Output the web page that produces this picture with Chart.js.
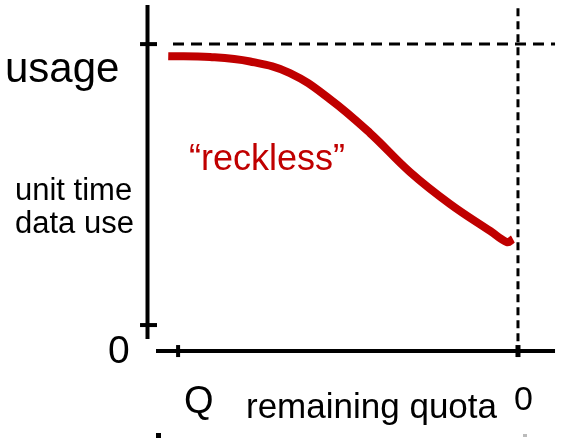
<!DOCTYPE html>
<html>
<head>
<meta charset="utf-8">
<title>reckless usage</title>
<script src="https://cdn.jsdelivr.net/npm/chart.js@4/dist/chart.umd.min.js"></script>
<style>
  html, body { margin: 0; padding: 0; background: #fff; }
  #wrap { width: 571px; height: 438px; }
</style>
</head>
<body>
<div id="wrap"><canvas id="grafico" width="571" height="438"></canvas></div>
<script>
// curva "reckless": cuota restante (Q = 100 → 0) vs uso por unidad de tiempo
const quotaLeft  = [102.9, 90.6, 78.8, 67.1, 55.3, 43.5, 31.8, 20.0, 8.2, 3.2, 1.5];
const usageRate  = [ 95.7, 95.4, 93.8, 89.7, 80.4, 68.3, 54.5, 43.1, 33.5, 29.5, 30.6];

const xTickVals   = [100, 0];
const xTickLabels = ['Q', '0'];
const yTickVals   = [0, 100];
const yTickLabels = ['0', 'usage'];

const ROJO  = '#c00000';
const NEGRO = '#000';
const FUENTE = '"Liberation Sans", Arial, Helvetica, sans-serif';

// ejes dibujados a mano sobre las escalas del chart
const ejesBoceto = {
  id: 'ejesBoceto',
  beforeDatasetsDraw(chart) {
    const { ctx, scales: { x, y } } = chart;
    ctx.save();
    ctx.strokeStyle = NEGRO;
    ctx.lineCap = 'butt';

    // eje Y
    ctx.lineWidth = 4;
    ctx.beginPath();
    ctx.moveTo(x.getPixelForValue(109), y.getPixelForValue(113.9));
    ctx.lineTo(x.getPixelForValue(109), y.getPixelForValue(-5));
    ctx.stroke();

    // eje X
    const yEje = y.getPixelForValue(-9.25);
    ctx.beginPath();
    ctx.moveTo(x.getPixelForValue(106.5), yEje);
    ctx.lineTo(x.getPixelForValue(-10.9), yEje);
    ctx.stroke();

    // marcas del eje Y
    yTickVals.forEach(v => {
      const py = y.getPixelForValue(v);
      ctx.beginPath();
      ctx.moveTo(x.getPixelForValue(111.2), py);
      ctx.lineTo(x.getPixelForValue(106.2), py);
      ctx.stroke();
    });

    // marcas del eje X
    xTickVals.forEach((v, i) => {
      const px = x.getPixelForValue(v);
      ctx.lineWidth = i === 0 ? 4 : 5;
      ctx.beginPath();
      ctx.moveTo(px, yEje - 6);
      ctx.lineTo(px, yEje + 6);
      ctx.stroke();
    });

    // líneas discontinuas: tope de uso y cuota agotada
    ctx.lineWidth = 3;
    ctx.setLineDash([11, 7]);
    const yTope = y.getPixelForValue(100);
    ctx.beginPath();
    ctx.moveTo(x.getPixelForValue(101.5), yTope);
    ctx.lineTo(x.getPixelForValue(-10.9), yTope);
    ctx.stroke();

    ctx.setLineDash([8, 5]);
    const xCero = x.getPixelForValue(0);
    ctx.beginPath();
    ctx.moveTo(xCero, y.getPixelForValue(112.8));
    ctx.lineTo(xCero, yEje - 6);
    ctx.stroke();
    ctx.setLineDash([]);

    // restos de marcas abajo
    ctx.fillStyle = NEGRO;
    ctx.fillRect(156, 433, 5, 5);
    ctx.fillStyle = '#bbb';
    ctx.fillRect(523, 434, 4, 3);

    // textos
    ctx.fillStyle = NEGRO;
    ctx.textBaseline = 'alphabetic';
    ctx.textAlign = 'left';

    ctx.font = '42px ' + FUENTE;
    ctx.fillText(yTickLabels[1], 5, 82);
    ctx.font = '39px ' + FUENTE;
    ctx.fillText(yTickLabels[0], 108, 363);

    ctx.font = '31px ' + FUENTE;
    ctx.fillText('unit time', 15, 200);
    ctx.fillText('data use', 15, 233);

    ctx.font = '38px ' + FUENTE;
    ctx.fillText(xTickLabels[0], 184, 413);
    ctx.font = '35px ' + FUENTE;
    ctx.fillText('remaining quota', 246, 418);
    ctx.font = '34px ' + FUENTE;
    ctx.fillText(xTickLabels[1], 514, 410);

    ctx.fillStyle = ROJO;
    ctx.font = '36px ' + FUENTE;
    ctx.fillText('\u201Creckless\u201D', 189, 170);

    ctx.restore();
  }
};

const ctx = document.getElementById('grafico').getContext('2d');
new Chart(ctx, {
  type: 'line',
  data: {
    datasets: [{
      data: quotaLeft.map((q, i) => ({ x: q, y: usageRate[i] })),
      borderColor: ROJO,
      borderWidth: 8,
      borderCapStyle: 'butt',
      borderJoinStyle: 'round',
      pointRadius: 0,
      tension: 0.4,
      fill: false
    }]
  },
  options: {
    responsive: false,
    animation: false,
    layout: { padding: 0 },
    plugins: { legend: { display: false }, tooltip: { enabled: false } },
    scales: {
      x: { type: 'linear', reverse: true, min: -15.6, max: 152.4, display: false },
      y: { type: 'linear', min: -40.2, max: 115.7, display: false }
    }
  },
  plugins: [ejesBoceto]
});
</script>
</body>
</html>
